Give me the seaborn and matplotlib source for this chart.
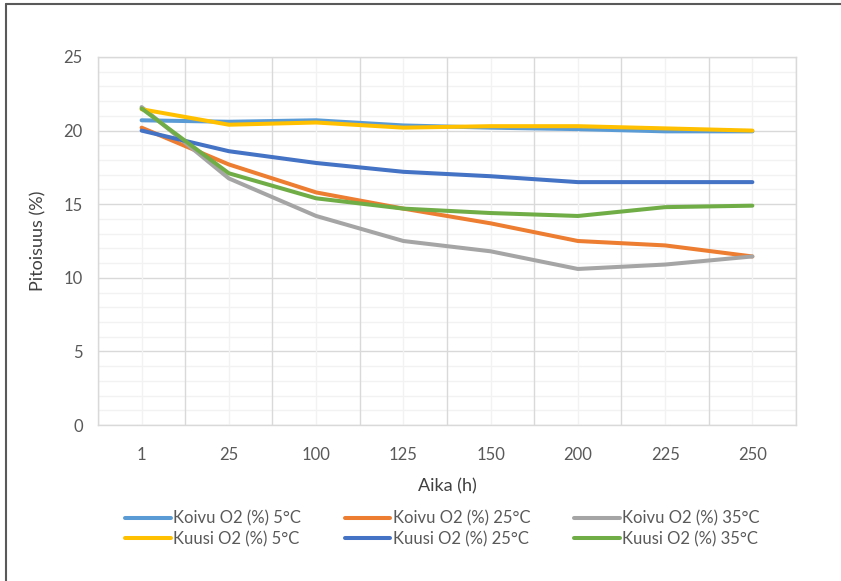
import matplotlib
matplotlib.use("Agg")
import matplotlib.pyplot as plt
import seaborn as sns
import pandas as pd
from matplotlib.lines import Line2D

times = ["1", "25", "100", "125", "150", "200", "225", "250"]
koivu_5 = [20.7, 20.6, 20.7, 20.35, 20.2, 20.1, 19.95, 19.95]
koivu_25 = [20.2, 17.7, 15.8, 14.7, 13.7, 12.5, 12.2, 11.45]
koivu_35 = [21.6, 16.75, 14.2, 12.5, 11.8, 10.6, 10.9, 11.45]
kuusi_5 = [21.45, 20.4, 20.55, 20.2, 20.3, 20.3, 20.15, 20.0]
kuusi_25 = [20.0, 18.6, 17.8, 17.2, 16.9, 16.5, 16.5, 16.5]
kuusi_35 = [21.5, 17.1, 15.4, 14.7, 14.4, 14.2, 14.8, 14.9]

series = {
    "Koivu O2 (%) 5°C": koivu_5,
    "Koivu O2 (%) 25°C": koivu_25,
    "Koivu O2 (%) 35°C": koivu_35,
    "Kuusi O2 (%) 5°C": kuusi_5,
    "Kuusi O2 (%) 25°C": kuusi_25,
    "Kuusi O2 (%) 35°C": kuusi_35,
}
colors = {
    "Koivu O2 (%) 5°C": "#5B9BD5",
    "Koivu O2 (%) 25°C": "#ED7D31",
    "Koivu O2 (%) 35°C": "#A5A5A5",
    "Kuusi O2 (%) 5°C": "#FFC000",
    "Kuusi O2 (%) 25°C": "#4472C4",
    "Kuusi O2 (%) 35°C": "#70AD47",
}

rows = []
for name, vals in series.items():
    for t, v in zip(times, vals):
        rows.append({"Aika": t, "Pitoisuus": v, "Sarja": name})
df = pd.DataFrame(rows)

sns.set_theme(style="white")
plt.rcParams["font.family"] = ["Lato", "DejaVu Sans"]

fig = plt.figure(figsize=(8.41, 5.81), dpi=100)
ax = fig.add_axes([0.1165, 0.2685, 0.830, 0.6334])

# grid
ax.set_xlim(-0.5, len(times) - 0.5)
ax.set_ylim(0, 25)
for y in range(0, 26):
    ax.axhline(y, color="#D9D9D9" if y % 5 == 0 else "#F2F2F2", lw=1.0, zorder=0)
for i in range(len(times)):
    ax.axvline(i, color="#F2F2F2", lw=1.0, zorder=0)
    ax.axvline(i - 0.5, color="#D9D9D9", lw=1.0, zorder=0)
ax.axvline(len(times) - 0.5, color="#D9D9D9", lw=1.0, zorder=0)

sns.lineplot(data=df, x="Aika", y="Pitoisuus", hue="Sarja", palette=colors,
             ax=ax, lw=2.9, legend=False, sort=False,
             solid_capstyle="round", solid_joinstyle="round")

for s in ax.spines.values():
    s.set_color("#D9D9D9")
    s.set_linewidth(1.0)

ax.set_yticks(range(0, 26, 5))
ax.tick_params(axis="both", length=0, labelsize=12, colors="#595959")
ax.tick_params(axis="x", pad=16)
ax.tick_params(axis="y", pad=11)
ax.set_xlabel("Aika (h)", fontsize=13, color="#404040", labelpad=11)
ax.set_ylabel("Pitoisuus (%)", fontsize=13, color="#404040", labelpad=12)

order = ["Koivu O2 (%) 5°C", "Kuusi O2 (%) 5°C",
         "Koivu O2 (%) 25°C", "Kuusi O2 (%) 25°C",
         "Koivu O2 (%) 35°C", "Kuusi O2 (%) 35°C"]
handles = [Line2D([0], [0], color=colors[n], lw=2.9, solid_capstyle="round") for n in order]
leg = fig.legend(handles, order, ncol=3, loc="center left",
                 bbox_to_anchor=(125 / 841, 1 - 529 / 581),
                 frameon=False, fontsize=12, handlelength=2.75, handletextpad=0.15,
                 columnspacing=2.6, labelspacing=0.25, borderpad=0, borderaxespad=0)
for t in leg.get_texts():
    t.set_color("#595959")

# outer border (left and top)
fig.add_artist(Line2D([5.5 / 841, 5.5 / 841], [0, 1 - 4 / 581], transform=fig.transFigure,
                      color="#595959", lw=1.5))
fig.add_artist(Line2D([5.5 / 841, 1], [1 - 4 / 581, 1 - 4 / 581], transform=fig.transFigure,
                      color="#595959", lw=1.5))

fig.savefig("out.png", dpi=100)
